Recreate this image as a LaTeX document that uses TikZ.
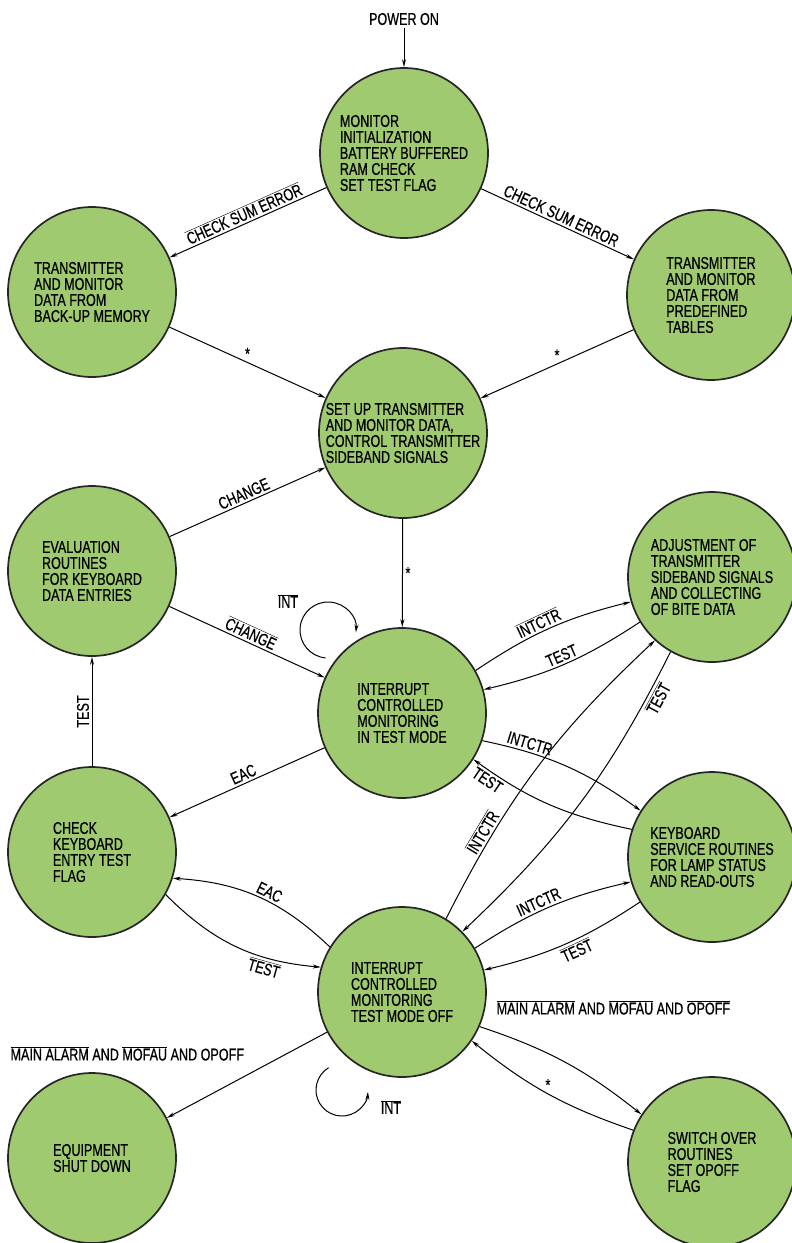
\documentclass[tikz,border=0pt]{standalone}
\usepackage{fontspec}
\setmainfont{Liberation Sans}[FakeStretch=0.74, FakeBold=0.6]
\usetikzlibrary{shapes.geometric,arrows.meta}
\definecolor{stgreen}{RGB}{160,202,112}
\newcommand\ovl[1]{$\overline{\mbox{#1}}$}
\newcommand\stfont{\fontsize{17}{16}\selectfont}
\tikzset{
  stnode/.style={ellipse, draw=black!85, line width=1.7pt, fill=stgreen,
    minimum width=168pt, minimum height=170pt, inner sep=0pt,
    label={[sttext]center:{#1}}},
  sttext/.style={font=\stfont, align=left, inner sep=0pt},
  lbl/.style={font=\stfont, inner sep=2.5pt},
}
\begin{document}
\begin{tikzpicture}[x=1pt, y=1pt, >={Stealth[length=8pt,width=4pt]}, line width=1pt]
\useasboundingbox (0,0) rectangle (792,-1243);
% states
\node[stnode={MONITOR\\INITIALIZATION\\BATTERY BUFFERED\\RAM CHECK\\SET TEST FLAG}] (init) at (404,-153) {};
\node[stnode={TRANSMITTER\\AND MONITOR\\DATA FROM\\BACK-UP MEMORY}] (backup) at (92,-292) {};
\node[stnode={TRANSMITTER\\AND MONITOR\\DATA FROM\\PREDEFINED\\TABLES}] (pred) at (711,-295) {};
\node[stnode={SET UP TRANSMITTER\\AND MONITOR DATA,\\CONTROL TRANSMITTER\\SIDEBAND SIGNALS}] (setup) at (403,-433) {};
\node[stnode={EVALUATION\\ROUTINES\\FOR KEYBOARD\\DATA ENTRIES}] (eval) at (92,-571) {};
\node[stnode={ADJUSTMENT OF\\TRANSMITTER\\SIDEBAND SIGNALS\\AND COLLECTING\\OF BITE DATA}] (adj) at (712,-577) {};
\node[stnode={INTERRUPT\\CONTROLLED\\MONITORING\\IN TEST MODE}] (tm) at (402,-713) {};
\node[stnode={CHECK\\KEYBOARD\\ENTRY TEST\\FLAG}] (chk) at (92,-852) {};
\node[stnode={KEYBOARD\\SERVICE ROUTINES\\FOR LAMP STATUS\\AND READ-OUTS}] (kb) at (712,-857) {};
\node[stnode={INTERRUPT\\CONTROLLED\\MONITORING\\TEST MODE OFF}] (to) at (402,-992) {};
\node[stnode={EQUIPMENT\\SHUT DOWN}] (shut) at (92,-1158) {};
\node[stnode={SWITCH OVER\\ROUTINES\\SET OPOFF\\FLAG}] (sw) at (712,-1162) {};
\node[lbl] (pwr) at (404,-19) {POWER ON};
% start-up
\draw[->] (pwr) -- (init);
\draw[->] (init) -- node[lbl, sloped, above] {\ovl{CHECK SUM ERROR}} (backup);
\draw[->] (init) -- node[lbl, sloped, above] {CHECK SUM ERROR} (pred);
\draw[->] (backup) -- node[lbl, above] {*} (setup);
\draw[->] (pred) -- node[lbl, above] {*} (setup);
\draw[->] (eval) -- node[lbl, sloped, above] {CHANGE} (setup);
\draw[->] (setup) -- node[lbl, right] {*} (tm);
% test mode
\draw[->] (eval) -- node[lbl, sloped, above] {\ovl{CHANGE}} (tm);
\draw[->] (tm) -- node[lbl, sloped, above] {EAC} (chk);
\draw[->] (chk) -- node[lbl, sloped, above] {TEST} (eval);
\draw[->] (tm.30) to[bend left=10] node[lbl, sloped, above, pos=0.45] {\ovl{INTCTR}} (adj.197);
\draw[->] (adj.212) to[bend left=10] node[lbl, sloped, above] {TEST} (tm.16);
\draw[->] (tm.-19) to[bend left=12] node[lbl, sloped, above, pos=0.25] {INTCTR} (kb.147);
\draw[->] (kb.161) to[bend left=12] node[lbl, sloped, below, pos=0.88] {TEST} (tm.-33);
\coordinate (tmloop) at ([shift={(-74,83)}]tm.center);
\draw[->] ([shift={(265:28)}]tmloop) arc[start angle=265, end angle=-5, radius=28];
\node[lbl] (tmint) at ([shift={(-40,29)}]tmloop) {\ovl{INT}};
% test mode off
\draw[->] (to.59) to[bend left=10] node[lbl, sloped, above, pos=0.25] {\ovl{INTCTR}} (adj.228);
\draw[->] (adj.241) to[bend left=10] node[lbl, sloped, below, pos=0.12] {\ovl{TEST}} (to.45);
\draw[->] (to.31) to[bend left=10] node[lbl, sloped, above, pos=0.45] {INTCTR} (kb.197);
\draw[->] (kb.212) to[bend left=10] node[lbl, sloped, below, pos=0.45] {\ovl{TEST}} (to.15);
\draw[->] (to.148) to[bend right=20] node[lbl, sloped, above, pos=0.45] {EAC} (chk.-18);
\draw[->] (chk.-30) to[bend right=20] node[lbl, sloped, below, pos=0.7] {\ovl{TEST}} (to.163);
\draw[->] (to) -- node[lbl, pos=0.25, anchor=east, xshift=-40pt] {\ovl{MAIN ALARM} AND \ovl{MOFAU} AND OPOFF} (shut);
\draw[->] (to.-24) to[bend left=10] node[lbl, at start, anchor=west, xshift=14pt, yshift=19pt] {\ovl{MAIN ALARM} AND \ovl{MOFAU} AND \ovl{OPOFF}} (sw.146);
\draw[->] (sw.158) to[bend left=10] node[lbl, above] {*} (to.-35);
\coordinate (toloop) at ([shift={(-60,-98)}]to.center);
\draw[->] ([shift={(121:26)}]toloop) arc[start angle=121, end angle=356, radius=26];
\node[lbl] (toint) at ([shift={(49,-17)}]toloop) {\ovl{INT}};
\end{tikzpicture}
\end{document}
